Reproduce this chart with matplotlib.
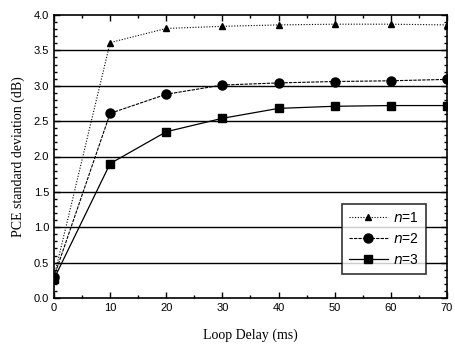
import numpy as np
import matplotlib.pyplot as plt
from matplotlib.ticker import MultipleLocator

# Loop delay (ms) and PCE standard deviation (dB) for n = 1, 2, 3
delay = [0, 10, 20, 30, 40, 50, 60, 70]
n1 = [0.30, 3.61, 3.81, 3.84, 3.86, 3.87, 3.87, 3.86]
n2 = [0.30, 2.61, 2.88, 3.01, 3.04, 3.06, 3.07, 3.09]
n3 = [0.27, 1.90, 2.35, 2.54, 2.68, 2.71, 2.72, 2.72]

fig = plt.figure(figsize=(4.56, 3.46), dpi=100)
ax = fig.add_axes([54 / 456, 48 / 346, 393 / 456, 283 / 346])

# horizontal grid lines
for yv in np.arange(0.5, 4.0, 0.5):
    ax.axhline(yv, color='black', lw=1.0, zorder=1)

ax.plot(delay, n1, color='black', lw=0.8, ls=(0, (1, 1.5)), marker='^',
        ms=5, label=r'$n$=1', zorder=3)
ax.plot(delay, n2, color='black', lw=0.8, ls=(0, (3, 1)), marker='o',
        ms=6.5, label=r'$n$=2', zorder=3)
ax.plot(delay, n3, color='black', lw=0.9, ls='-', marker='s',
        ms=5.5, label=r'$n$=3', zorder=3)

ax.set_xlim(0, 70)
ax.set_ylim(0, 4.0)
ax.xaxis.set_major_locator(MultipleLocator(10))
ax.xaxis.set_minor_locator(MultipleLocator(5))
ax.yaxis.set_major_locator(MultipleLocator(0.5))
ax.yaxis.set_minor_locator(MultipleLocator(0.1))
ax.yaxis.set_major_formatter(plt.FuncFormatter(lambda v, p: f'{v:.1f}'))
ax.tick_params(which='both', direction='in', top=True, right=True,
               labelsize=8, width=1.0)
ax.tick_params(which='major', length=4)
ax.tick_params(which='minor', length=2)
for lab in ax.get_xticklabels() + ax.get_yticklabels():
    lab.set_family('Liberation Sans')
for sp in ax.spines.values():
    sp.set_linewidth(1.2)

ax.set_xlabel('Loop Delay (ms)', family='Liberation Serif', fontsize=10,
              labelpad=11)
ax.set_ylabel('PCE standard deviation (dB)', family='Liberation Serif',
              fontsize=10, labelpad=6)

leg = ax.legend(loc='lower right', bbox_to_anchor=(0.965, 0.06),
                frameon=True, fancybox=False, edgecolor='black',
                prop={'family': 'Liberation Sans', 'size': 10},
                handlelength=2.8, handletextpad=0.4, borderpad=0.5,
                labelspacing=0.5)
leg.get_frame().set_linewidth(1.2)

fig.savefig('out.png', dpi=100)
